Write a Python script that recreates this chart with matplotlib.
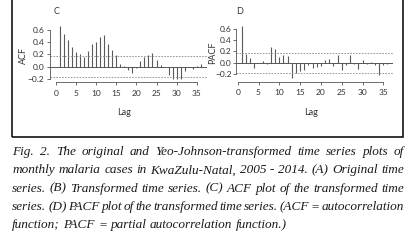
import numpy as np
import matplotlib
matplotlib.use("Agg")
import matplotlib.pyplot as plt
from matplotlib.patches import Rectangle

# ---------------- data ----------------
lags = np.arange(1, 37)
acf_vals = [0.667, 0.535, 0.44, 0.32, 0.24, 0.21, 0.15, 0.26, 0.36, 0.40,
            0.48, 0.52, 0.37, 0.27, 0.18, 0.04, 0.01, -0.05, -0.10, -0.02,
            0.09, 0.15, 0.19, 0.22, 0.10, 0.03, 0.00, -0.14, -0.20, -0.20,
            -0.20, -0.08, -0.01, -0.04, 0.01, 0.04]
pacf_vals = [0.65, 0.15, 0.09, -0.09, -0.01, 0.03, -0.03, 0.28, 0.24, 0.10,
             0.14, 0.12, -0.27, -0.18, -0.14, -0.13, -0.04, -0.09, -0.08, -0.05,
             0.05, 0.07, -0.05, 0.13, -0.13, -0.04, 0.13, -0.02, -0.11, 0.05,
             -0.02, 0.02, -0.04, -0.22, -0.04, -0.02]
conf_limit = 0.179
x_ticks = [0, 5, 10, 15, 20, 25, 30, 35]
y_ticks = [-0.2, 0.0, 0.2, 0.4, 0.6]
y_ticklabels = ["\u22120.2", "0.0", "0.2", "0.4", "0.6"]
panel_letters = ["C", "D"]
y_labels = ["ACF", "PACF"]
x_label = "Lag"
caption_lines = [
    "Fig. 2. The original and Yeo-Johnson-transformed time series plots of",
    "monthly malaria cases in KwaZulu-Natal, 2005 - 2014. (A) Original time",
    "series. (B) Transformed time series. (C) ACF plot of the transformed time",
    "series. (D) PACF plot of the transformed time series. (ACF = autocorrelation",
    "function; PACF = partial autocorrelation function.)",
]

# ---------------- figure ----------------
W, H = 414, 243
fig = plt.figure(figsize=(W / 100, H / 100), dpi=100)


def fx(px):
    return px / W


def fy(py):
    return 1 - py / H


def ax_rect(x0, x1, ytop, ybot):
    return [x0 / W, 1 - ybot / H, (x1 - x0) / W, (ybot - ytop) / H]


tick_font = dict(family="Lato", size=6)
bar_color = "#5a5a5a"


def style_panel(ax, vals, xlim, ylim, ypad):
    ax.vlines(lags, 0, vals, color=bar_color, lw=0.8)
    ax.axhline(0, color="#555555", lw=0.7)
    for s in (conf_limit, -conf_limit):
        ax.axhline(s, color="#8a8a8a", lw=0.6, ls=(0, (2.0, 1.5)))
    ax.set_xlim(*xlim)
    ax.set_ylim(*ylim)
    for sp in ("top", "right"):
        ax.spines[sp].set_visible(False)
    ax.spines["left"].set_bounds(-0.2, 0.6)
    ax.spines["bottom"].set_bounds(0, 35)
    for sp in ("left", "bottom"):
        ax.spines[sp].set_color("#555555")
        ax.spines[sp].set_linewidth(0.6)
    ax.set_xticks(x_ticks)
    ax.set_xticklabels([str(t) for t in x_ticks], **tick_font)
    ax.set_yticks(y_ticks)
    ax.set_yticklabels(y_ticklabels, **tick_font)
    ax.tick_params(axis="both", length=2.2, width=0.6, color="#555555",
                   labelcolor="#333333")
    ax.tick_params(axis="x", pad=3.0)
    ax.tick_params(axis="y", pad=ypad)
    ax.patch.set_alpha(0)


axC = fig.add_axes(ax_rect(50, 207, 24, 82.5))
style_panel(axC, acf_vals, (-1.49, 37.56), (-0.261, 0.694), 2.0)
axD = fig.add_axes(ax_rect(236, 393, 24, 81.5))
style_panel(axD, pacf_vals, (-0.41, 37.33), (-0.334, 0.688), 0.8)

lab_font = dict(family="Lato", size=6.5, color="#333333")
fig.text(fx(57), fy(11), panel_letters[0], ha="center", va="center", **lab_font)
fig.text(fx(240), fy(11), panel_letters[1], ha="center", va="center", **lab_font)
fig.text(fx(23), fy(55), y_labels[0], rotation=90, ha="center", va="center", **lab_font)
fig.text(fx(213), fy(53), y_labels[1], rotation=90, ha="center", va="center", **lab_font)
fig.text(fx(124), fy(112), x_label, ha="center", va="center", **lab_font)
fig.text(fx(311), fy(112), x_label, ha="center", va="center", **lab_font)

# frame around the chart panels
fig.patches.append(Rectangle((fx(11.7), fy(136.7)), fx(403.3) - fx(11.7),
                             fy(-5) - fy(136.7), transform=fig.transFigure,
                             fill=False, edgecolor="black", lw=1.1))

# ---------------- caption (justified) ----------------
cap_font = dict(family="Liberation Serif", style="italic", size=9.5, color="#1a1a1a")
baselines = [155.0, 173.3, 191.6, 209.9, 228.2]
left_px, right_px = 12.3, 404.0
renderer = fig.canvas.get_renderer()


def width_of(s):
    t = fig.text(0, 0, s, **cap_font)
    w = t.get_window_extent(renderer).width
    t.remove()
    return w


space_w = width_of("x x") - width_of("xx")
for i, line in enumerate(caption_lines):
    words = line.split(" ")
    y = fy(baselines[i])
    texts = [fig.text(0, y, w, va="baseline", ha="left", **cap_font) for w in words]
    widths = [t.get_window_extent(renderer).width for t in texts]
    if i < len(caption_lines) - 1 and len(words) > 1:
        gap = (right_px - left_px - sum(widths)) / (len(words) - 1)
    else:
        gap = space_w
    x = left_px
    for t, w in zip(texts, widths):
        t.set_x(fx(x))
        x += w + gap

fig.savefig("out.png", dpi=100)
